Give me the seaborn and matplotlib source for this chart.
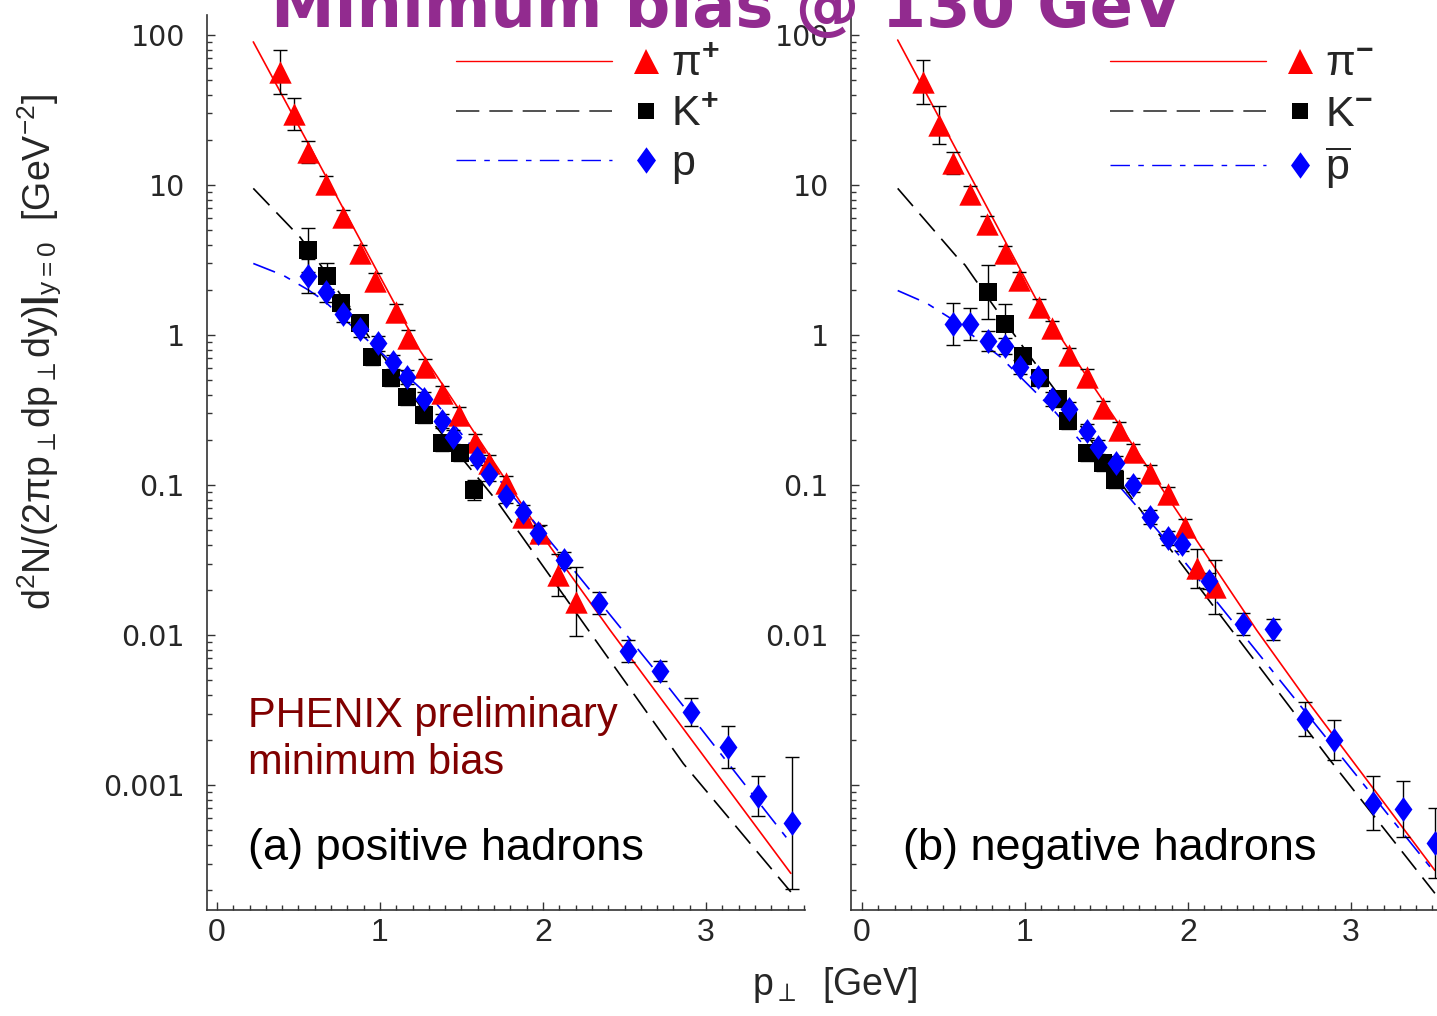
import numpy as np
import pandas as pd
import matplotlib
matplotlib.use("Agg")
import matplotlib.pyplot as plt
import seaborn as sns
from matplotlib.lines import Line2D
from matplotlib.legend_handler import HandlerBase
from matplotlib.path import Path
from matplotlib.ticker import LogLocator, MultipleLocator, NullFormatter

# ---------------- data ----------------
# panel (a): positive hadrons
pip_x = [0.386, 0.472, 0.56, 0.667, 0.775, 0.88, 0.97, 1.098, 1.174, 1.276, 1.382,
         1.487, 1.583, 1.667, 1.773, 1.88, 1.982, 2.094, 2.2]
pip_y = [56.9, 29.6, 16.5, 10.2, 6.15, 3.5, 2.30, 1.42, 0.95, 0.615, 0.408,
         0.293, 0.194, 0.141, 0.1025, 0.0615, 0.0476, 0.0251, 0.0167]
pip_err = [0.147, 0.107, 0.073, 0.053, 0.047, 0.053, 0.053, 0.053, 0.053, 0.053, 0.053,
           0.053, 0.053, 0.053, 0.047, 0.047, 0.053, 0.14, 0.23]   # half-width, decades

kp_x = [0.56, 0.673, 0.759, 0.877, 0.953, 1.066, 1.168, 1.272, 1.378, 1.491, 1.579]
kp_y = [3.69, 2.47, 1.64, 1.20, 0.718, 0.514, 0.388, 0.293, 0.191, 0.164, 0.0926]
kp_err = [0.147, 0.087, 0.053, 0.053, 0.053, 0.053, 0.053, 0.053, 0.053, 0.053, 0.067]

p_x = [0.56, 0.667, 0.771, 0.88, 0.99, 1.078, 1.168, 1.272, 1.382, 1.45, 1.593, 1.667,
       1.773, 1.88, 1.967, 2.131, 2.344, 2.524, 2.718, 2.906, 3.137, 3.321, 3.53]
p_y = [2.47, 1.94, 1.39, 1.09, 0.879, 0.664, 0.522, 0.374, 0.268, 0.21, 0.151, 0.118,
       0.0849, 0.0664, 0.0481, 0.0316, 0.0164, 0.00782, 0.00578, 0.00305, 0.0018,
       0.00085, 0.000555]
p_err = [0.113, 0.067, 0.053, 0.053, 0.047, 0.047, 0.047, 0.047, 0.047, 0.047, 0.047, 0.047,
         0.047, 0.047, 0.047, 0.053, 0.073, 0.073, 0.067, 0.093, 0.14, 0.133, 0.44]

pip_fit_x = [0.223, 1.078, 1.245, 2.022, 2.411, 3.52]
pip_fit_y = [90.0, 1.71, 0.79, 0.0419, 0.0108, 2.58e-4]
kp_fit_x = [0.223, 0.509, 0.601, 0.959, 1.327, 1.714, 2.278, 2.861, 3.52]
kp_fit_y = [9.5, 4.5, 3.33, 0.88, 0.258, 0.079, 0.0108, 0.00139, 1.94e-4]
p_fit_x = [0.223, 0.407, 0.56, 0.652, 1.328, 2.125, 2.718, 3.52]
p_fit_y = [3.0, 2.5, 2.0, 1.71, 0.369, 0.033, 0.0053, 4.1e-4]

# panel (b): negative hadrons
pim_x = [0.376, 0.47, 0.556, 0.663, 0.77, 0.877, 0.965, 1.088, 1.164, 1.27, 1.379,
         1.481, 1.575, 1.661, 1.767, 1.876, 1.982, 2.053, 2.166]
pim_y = [48.9, 25.1, 14.1, 8.71, 5.5, 3.5, 2.33, 1.54, 1.11, 0.736, 0.527,
         0.324, 0.233, 0.167, 0.121, 0.0871, 0.0528, 0.0278, 0.021]
pim_err = [0.147, 0.127, 0.073, 0.053, 0.053, 0.05, 0.05, 0.05, 0.05, 0.05, 0.05,
           0.05, 0.05, 0.05, 0.05, 0.05, 0.05, 0.127, 0.18]

km_x = [0.771, 0.877, 0.986, 1.092, 1.204, 1.266, 1.379, 1.481, 1.554]
km_y = [1.94, 1.18, 0.724, 0.514, 0.373, 0.268, 0.164, 0.14, 0.108]
km_err = [0.18, 0.133, 0.053, 0.053, 0.053, 0.053, 0.053, 0.053, 0.053]

pbar_x = [0.56, 0.663, 0.771, 0.877, 0.969, 1.078, 1.164, 1.272, 1.379, 1.446, 1.558,
          1.661, 1.767, 1.879, 1.965, 2.129, 2.339, 2.52, 2.718, 2.898, 3.137, 3.321, 3.515]
pbar_y = [1.18, 1.18, 0.916, 0.85, 0.615, 0.522, 0.374, 0.319, 0.229, 0.18, 0.14,
          0.1, 0.0615, 0.0446, 0.0402, 0.0229, 0.0118, 0.0109, 0.00274, 0.002,
          7.6e-4, 6.9e-4, 4.1e-4]
pbar_err = [0.14, 0.107, 0.067, 0.053, 0.047, 0.047, 0.047, 0.047, 0.047, 0.047, 0.047,
            0.047, 0.047, 0.047, 0.047, 0.053, 0.073, 0.067, 0.113, 0.133, 0.18, 0.187, 0.233]

pim_fit_x = [0.219, 1.092, 2.421, 2.728, 3.515]
pim_fit_y = [92.6, 1.55, 0.0108, 0.0037, 2.7e-4]
km_fit_x = [0.219, 0.581, 0.632, 0.796, 0.98, 1.215, 1.665, 2.871, 3.515]
km_fit_y = [9.5, 3.33, 2.93, 1.63, 0.857, 0.388, 0.079, 0.00147, 1.9e-4]
pbar_fit_x = [0.219, 0.397, 0.54, 0.847, 1.175, 1.971, 3.515]
pbar_fit_y = [1.98, 1.63, 1.3, 0.718, 0.316, 0.0316, 2.6e-4]

ytick_vals = [0.001, 0.01, 0.1, 1, 10, 100]
ytick_labels_a = ["0.001", "0.01", "0.1", "1", "10", "100"]
ytick_labels_b = ["", "0.01", "0.1", "1", "10", "100"]
xtick_vals = [0, 1, 2, 3]
xtick_labels = ["0", "1", "2", "3"]

labels_a = [r"π$^{\mathbf{+}}$", r"K$^{\mathbf{+}}$", "p"]
labels_b = [r"π$^{\mathbf{-}}$", r"K$^{\mathbf{-}}$", r"$\overline{\mathrm{p}}$"]

# ---------------- style ----------------
sns.set_theme(style="ticks")
plt.rcParams["font.family"] = ["DejaVu Sans"]
plt.rcParams["mathtext.fontset"] = "custom"
plt.rcParams["mathtext.rm"] = "Liberation Sans"
plt.rcParams["mathtext.it"] = "Liberation Sans:italic"
plt.rcParams["mathtext.bf"] = "Liberation Sans:bold"
plt.rcParams["mathtext.sf"] = "Liberation Sans"

RED, BLACK, BLUE = "#ff0000", "#000000", "#0000ff"
DASH_K = (0, (14, 6))
DASH_P = (0, (14, 6, 4, 6))
diamond = Path([(0, 1), (0.72, 0), (0, -1), (-0.72, 0), (0, 1)],
               [Path.MOVETO, Path.LINETO, Path.LINETO, Path.LINETO, Path.CLOSEPOLY])

W, H = 1437, 1016
fig = plt.figure(figsize=(W / 100, H / 100), dpi=100)
axA = fig.add_axes([207 / W, (H - 910) / H, 598 / W, 895 / H])
axB = fig.add_axes([851 / W, (H - 910) / H, 586 / W, 895 / H])


def errs(y, d):
    y = np.asarray(y, float)
    d = np.asarray(d, float)
    return [y - y * 10 ** (-d), y * 10 ** d - y]


def draw(ax, series, fits, xlim, ylabels):
    for (fx, fy, col, ls) in fits:
        sns.lineplot(x=fx, y=fy, ax=ax, color=col, linewidth=1.2, linestyle=ls,
                     sort=False, estimator=None, zorder=2)
    for (x, y, e, col, mk, s) in series:
        ax.errorbar(x, y, yerr=errs(y, e), fmt="none", ecolor="black",
                    elinewidth=1.0, capsize=5, capthick=1.0, zorder=3)
    for (x, y, e, col, mk, s) in series:
        sns.scatterplot(x=x, y=y, ax=ax, color=col, marker=mk, s=s,
                        linewidth=0, zorder=4)
    ax.set_yscale("log")
    ax.set_ylim(1.47e-4, 136)
    ax.set_xlim(*xlim)
    ax.set_yticks(ytick_vals, labels=ylabels)
    ax.yaxis.set_minor_locator(LogLocator(base=10, subs=np.arange(2, 10)))
    ax.yaxis.set_minor_formatter(NullFormatter())
    ax.set_xticks(xtick_vals, labels=xtick_labels)
    ax.xaxis.set_minor_locator(MultipleLocator(0.1))
    ax.tick_params(axis="both", which="both", direction="in", width=1.0, color="#333333")
    ax.tick_params(axis="both", which="major", length=6)
    ax.tick_params(axis="both", which="minor", length=3.5)
    ax.tick_params(axis="y", which="major", labelsize=20.5, pad=16)
    ax.tick_params(axis="x", which="major", pad=6, labelsize=23,
                   labelfontfamily="Liberation Sans")
    for sp in ["top", "right"]:
        ax.spines[sp].set_visible(False)
    for sp in ["left", "bottom"]:
        ax.spines[sp].set_color("#333333")
        ax.spines[sp].set_linewidth(1.2)
    ax.set_xlabel("")
    ax.set_ylabel("")
    ax.patch.set_alpha(0)


draw(axA,
     [(pip_x, pip_y, pip_err, RED, "^", 260),
      (kp_x, kp_y, kp_err, BLACK, "s", 160),
      (p_x, p_y, p_err, BLUE, diamond, 320)],
     [(pip_fit_x, pip_fit_y, RED, "-"),
      (kp_fit_x, kp_fit_y, BLACK, DASH_K),
      (p_fit_x, p_fit_y, BLUE, DASH_P)],
     (-0.061, 3.607), ytick_labels_a)
draw(axB,
     [(pim_x, pim_y, pim_err, RED, "^", 260),
      (km_x, km_y, km_err, BLACK, "s", 160),
      (pbar_x, pbar_y, pbar_err, BLUE, diamond, 320)],
     [(pim_fit_x, pim_fit_y, RED, "-"),
      (km_fit_x, km_fit_y, BLACK, DASH_K),
      (pbar_fit_x, pbar_fit_y, BLUE, DASH_P)],
     (-0.0675, 3.528), ytick_labels_b)


# ---------------- legends: line sample, then marker, then label ----------------
class LineThenMarker(HandlerBase):
    def create_artists(self, legend, orig_handle, xdescent, ydescent, width,
                       height, fontsize, trans):
        line, mark = orig_handle
        y = height / 2 - ydescent
        x0 = -xdescent
        l = Line2D([0], [0])
        l.update_from(line)
        l.set_data([x0, x0 + 0.765 * width], [y, y])
        l.set_transform(trans)
        m = Line2D([0], [0])
        m.update_from(mark)
        m.set_data([x0 + 0.93 * width], [y])
        m.set_transform(trans)
        return [l, m]


def handles():
    return [
        (Line2D([], [], color=RED, lw=1.0),
         Line2D([], [], ls="none", marker="^", ms=18, color=RED, mew=0)),
        (Line2D([], [], color="#333333", lw=1.2, ls=DASH_K),
         Line2D([], [], ls="none", marker="s", ms=12, color=BLACK, mew=0)),
        (Line2D([], [], color=BLUE, lw=1.0, ls=DASH_P),
         Line2D([], [], ls="none", marker=diamond, ms=19, color=BLUE, mew=0)),
    ]


for ax, labs, x0 in [(axA, labels_a, (456 - 207) / 598), (axB, labels_b, (1110 - 851) / 586)]:
    ax.legend(handles(), labs, handler_map={tuple: LineThenMarker()},
              loc="upper left", bbox_to_anchor=(x0, 0.966), frameon=False,
              borderpad=0, borderaxespad=0, handlelength=4.74, handletextpad=0.25,
              labelspacing=0.22, prop={"family": "Liberation Sans", "size": 31})

# ---------------- texts ----------------
fig.text(0.506, 1 - 27 / H, "Minimum bias @ 130 GeV", ha="center", va="baseline",
         fontsize=46, fontweight="bold", color="#922b8f")
fig.text(248 / W, (H - 727) / H, "PHENIX preliminary", ha="left", va="baseline",
         fontsize=30, color="#800000", family="Liberation Sans")
fig.text(248 / W, (H - 774) / H, "minimum bias", ha="left", va="baseline",
         fontsize=30, color="#800000", family="Liberation Sans")
fig.text(248 / W, (H - 860) / H, "(a) positive hadrons", ha="left", va="baseline",
         fontsize=32.5, color="black", family="Liberation Sans")
fig.text(903 / W, (H - 860) / H, "(b) negative hadrons", ha="left", va="baseline",
         fontsize=32.5, color="black", family="Liberation Sans")
fig.text(40 / W, (H - 352) / H,
         r"d$^2$N/(2πp$_\perp$dp$_\perp$dy)$\mathbf{|}_{\mathrm{y=0}}$  [GeV$^{-2}$]",
         rotation=90, ha="center", va="center", fontsize=27, family="Liberation Sans")
fig.text(835 / W, (H - 985) / H, r"p$_\perp$  [GeV]", ha="center", va="center",
         fontsize=27, family="Liberation Sans")

fig.savefig("out.png", dpi=100)
